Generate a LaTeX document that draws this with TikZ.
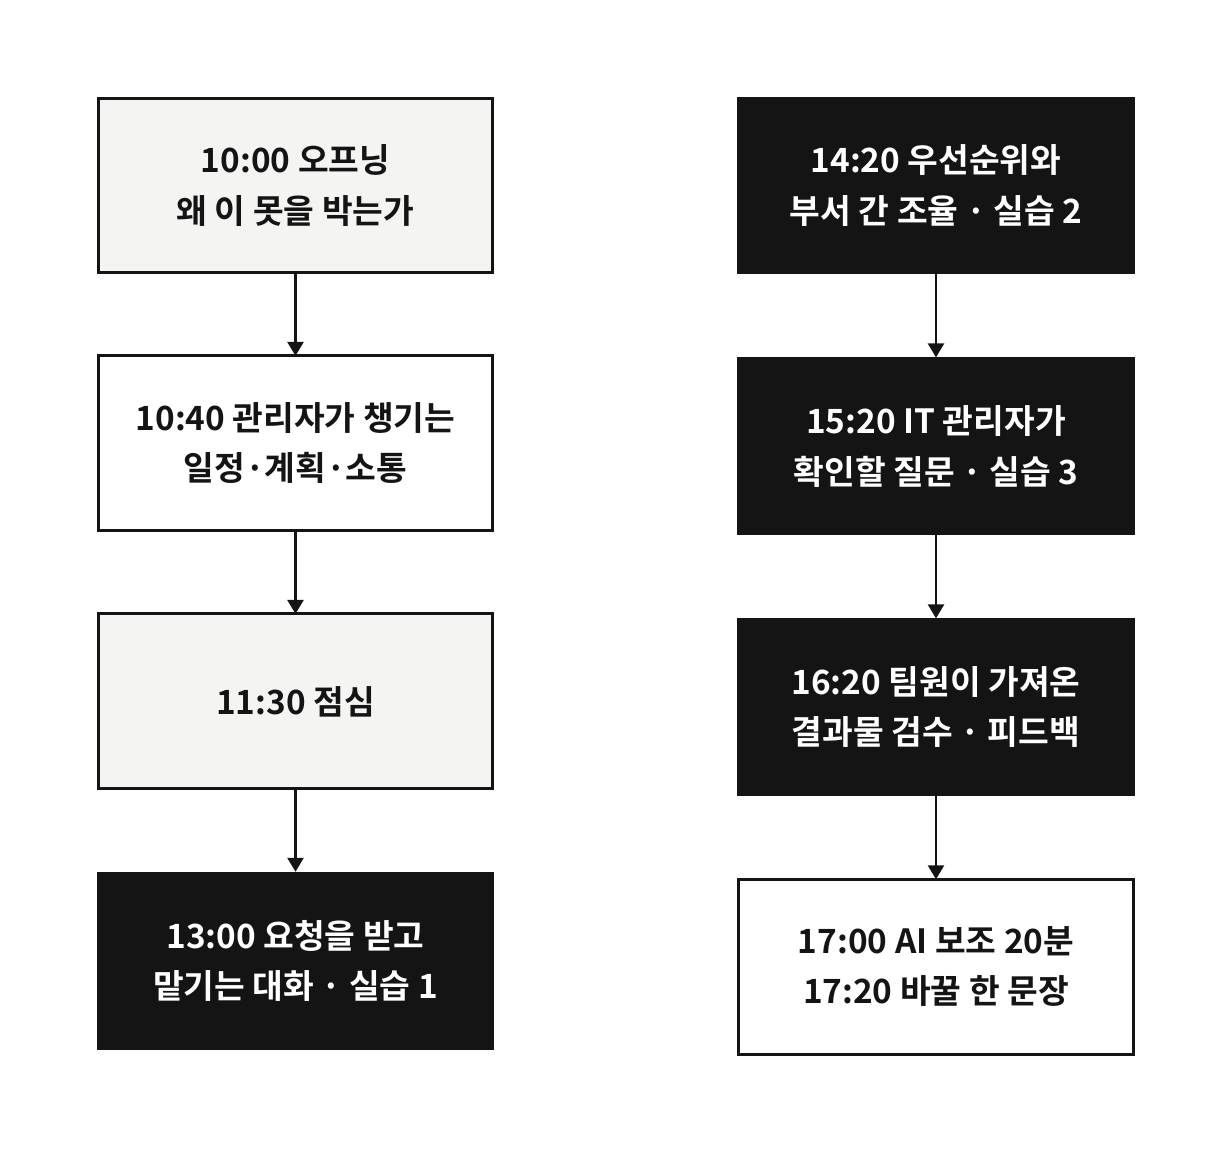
\documentclass[tikz,border=0pt]{standalone}
\usepackage{fontspec}
\setmainfont{Noto Sans CJK KR}[BoldFont={* Bold}]
\usetikzlibrary{positioning,arrows.meta}
\definecolor{paper}{HTML}{F4F4F2}
\definecolor{ink}{HTML}{141414}
\tikzset{
  slot/.style={rectangle, minimum width=7.9cm, minimum height=3.5cm, align=center,
    font=\fontsize{19}{28.5}\selectfont\bfseries, line width=1.7pt, outer sep=0pt},
  light/.style={slot, draw=ink, fill=paper, text=ink},
  plain/.style={slot, draw=ink, fill=white, text=ink},
  dark/.style={slot, fill=ink, text=white, minimum width=7.96cm, minimum height=3.56cm},
  flow/.style={-{Triangle[length=8pt,width=9pt]}, line width=1.7pt, draw=ink}
}
\begin{document}
\begin{tikzpicture}[x=0.02cm,y=-0.02cm, node distance=1.66cm]
\useasboundingbox (0,0) rectangle (1232,1152);
% left column
\node[light] (opening) at (295.5,185.5) {10:00 오프닝\\왜 이 못을 박는가};
\node[plain, below=of opening] (plan) {10:40 관리자가 챙기는\\일정·계획·소통};
\node[light, below=of plan] (lunch) {11:30 점심};
\node[dark, below=of lunch] (talk) {13:00 요청을 받고\\맡기는 대화 · 실습 1};
% right column
\node[dark] (priority) at (936,185.5) {14:20 우선순위와\\부서 간 조율 · 실습 2};
\node[dark, below=of priority] (itq) {15:20 IT 관리자가\\확인할 질문 · 실습 3};
\node[dark, below=of itq] (review) {16:20 팀원이 가져온\\결과물 검수 · 피드백};
\node[plain, below=of review] (closing) {17:00 AI 보조 20분\\17:20 바꿀 한 문장};
% arrows
\foreach \a/\b in {opening/plan, plan/lunch, lunch/talk, priority/itq, itq/review, review/closing}
  \draw[flow] (\a) -- (\b);
\end{tikzpicture}
\end{document}
